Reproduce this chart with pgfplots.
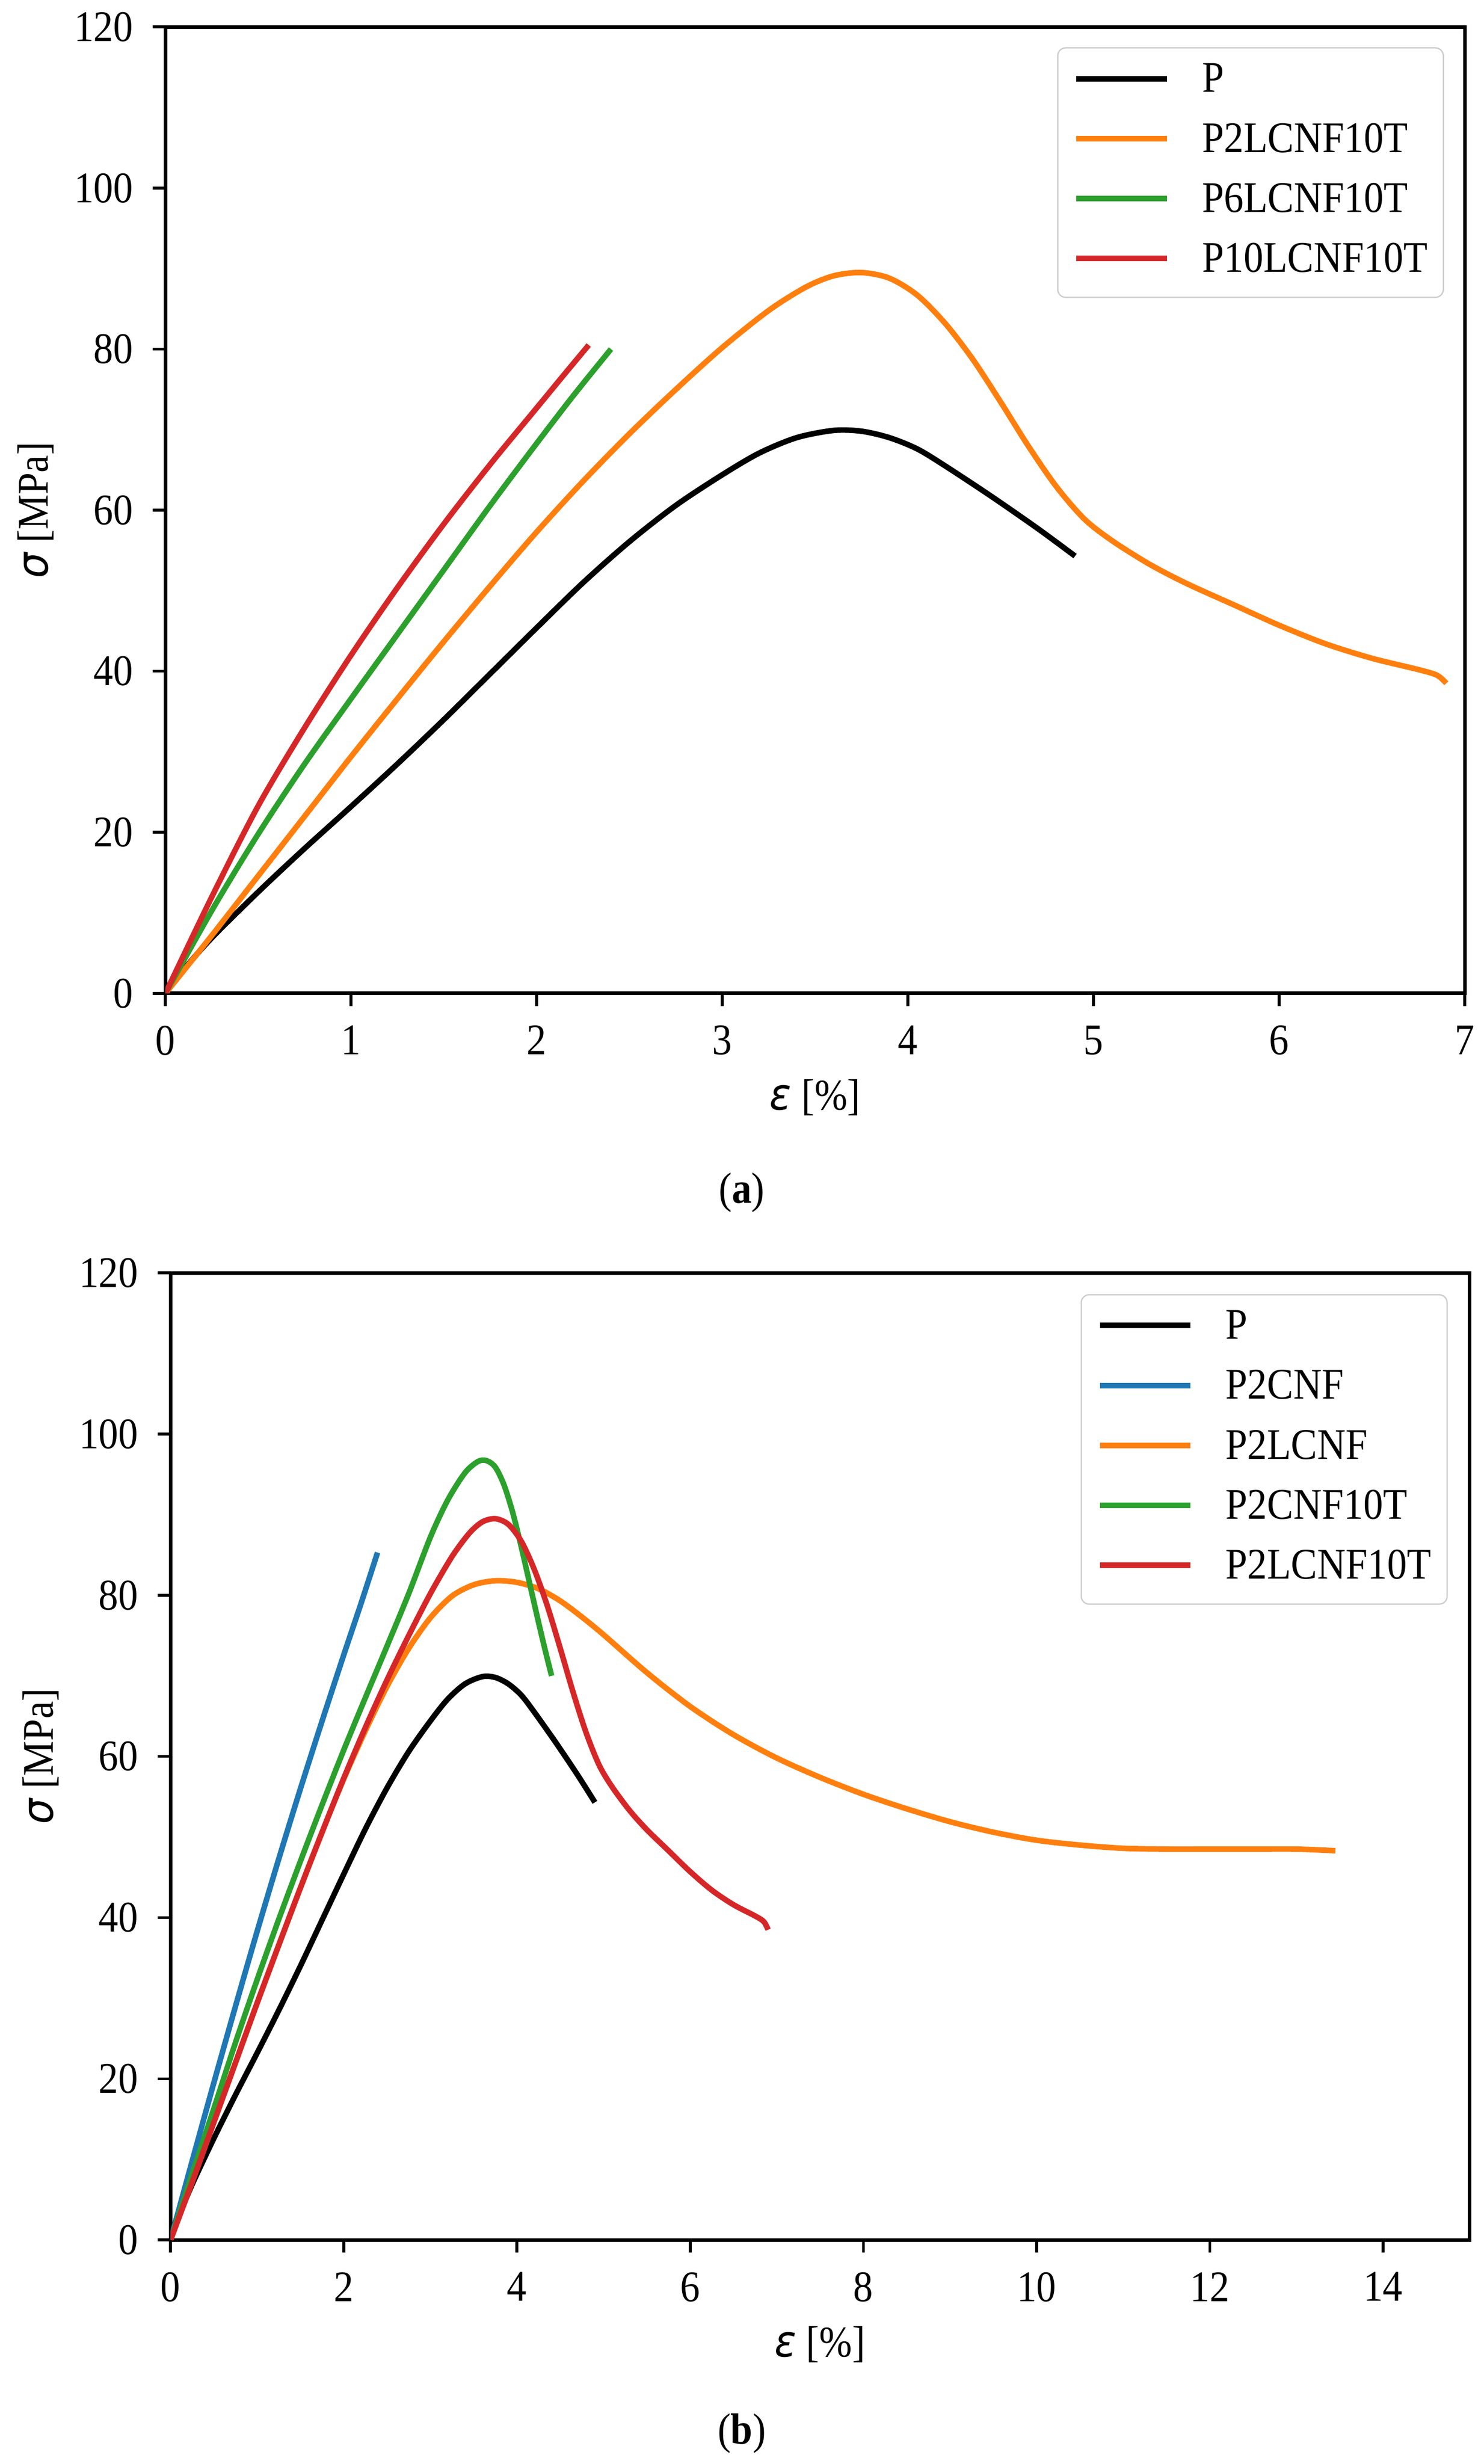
\documentclass[border=0pt]{standalone}
\usepackage{fontspec}
\setmainfont{Liberation Serif}[FakeStretch=0.9]
\newfontfamily\dejavu{DejaVu Sans}[FakeStretch=0.92]
\usepackage{pgfplots}
\pgfplotsset{compat=1.18}
\definecolor{tabblue}{RGB}{31,119,180}
\definecolor{taborange}{RGB}{255,127,14}
\definecolor{tabgreen}{RGB}{44,160,44}
\definecolor{tabred}{RGB}{214,39,40}
\newcommand{\fs}{\fontsize{13.8}{16.5}\selectfont}
\pgfplotsset{
  mystyle/.style={
    scale only axis,
    anchor=north west,
    tick align=outside,
    tick pos=left,
    major tick length=4pt,
    every tick/.style={black, line width=0.9pt},
    axis line style={line width=1.1pt},
    ymin=0, ymax=120, ytick={0,20,...,120},
    /pgf/number format/assume math mode=true,
    tick label style={font=\fs, inner sep=0pt},
    xticklabel shift=6pt, yticklabel shift=6pt,
    label style={font=\fs},
    xlabel={{\dejavu\itshape ε} [\%]},
    ylabel={{\dejavu\itshape σ} [MPa]},
    xlabel style={at={(axis description cs:0.5,-0.108)}, anchor=center},
    ylabel style={at={(axis description cs:-0.1,0.5)}, anchor=center},
    legend cell align=left,
    legend style={font=\fs, draw=black!20, rounded corners=2.5pt, fill=white,
      fill opacity=0.8, text opacity=1, at={(1,1)}, anchor=north east,
      xshift=-6.6pt, yshift=-6.4pt, inner xsep=5pt, inner ysep=4.5pt,
      row sep=5.9pt,
      nodes={inner sep=0pt, text height=9.5pt, text depth=3.5pt},
      /tikz/every odd column/.append style={column sep=10.2pt},
      /tikz/every even column/.append style={inner xsep=1.5pt}},
    legend image code/.code={\draw[#1] (0pt,1.3pt) -- (28.6pt,1.3pt);},
    every axis plot/.append style={line width=1.75pt, smooth, line join=round},
  }
}
\begin{document}
\begin{tikzpicture}
\useasboundingbox (0,0) rectangle (468pt,-777.4pt);
% ---------- (a) ----------
\begin{axis}[mystyle, at={(52.2pt,-8.5pt)}, width=409.9pt, height=304.9pt,
  xmin=0, xmax=7, xtick={0,1,...,7}]
\addplot[black] coordinates {(0,0) (0.1,3) (0.25,6.9) (0.5,12.6) (0.75,18) (1,23.2) (1.25,28.5) (1.5,34) (1.75,39.7) (2,45.4) (2.25,51) (2.5,56.1) (2.75,60.6) (3,64.4) (3.2,67.1) (3.4,69) (3.6,69.9) (3.75,69.8) (3.9,69) (4.05,67.6) (4.2,65.5) (4.45,61.7) (4.7,57.7) (4.9,54.3)};
\addlegendentry{P}
\addplot[taborange] coordinates {(0,0) (0.25,7.2) (0.5,14.6) (0.75,22) (1,29.4) (1.25,36.6) (1.5,43.7) (1.75,50.6) (2,57.3) (2.25,63.6) (2.5,69.5) (2.75,75) (3,80.2) (3.25,84.8) (3.45,87.7) (3.6,89.1) (3.75,89.5) (3.9,88.8) (4.05,86.7) (4.2,83.2) (4.35,78.7) (4.5,73.4) (4.65,67.9) (4.8,62.9) (4.95,58.9) (5.1,56.2) (5.3,53.3) (5.5,50.9) (5.75,48.3) (6,45.7) (6.25,43.4) (6.5,41.6) (6.75,40.2) (6.85,39.5) (6.9,38.5)};
\addlegendentry{P2LCNF10T}
\addplot[tabgreen] coordinates {(0,0) (0.25,10.3) (0.5,19.8) (0.75,28.5) (1,36.6) (1.25,44.6) (1.5,52.6) (1.75,60.6) (2,68.3) (2.2,74.3) (2.4,80)};
\addlegendentry{P6LCNF10T}
\addplot[tabred] coordinates {(0,0) (0.25,12) (0.5,23.3) (0.75,33) (1,42) (1.25,50.4) (1.5,58.3) (1.75,65.7) (2,72.7) (2.15,76.9) (2.28,80.5)};
\addlegendentry{P10LCNF10T}
\end{axis}
\node[font=\fs] at (234pt,-376.2pt) {(\textbf{a})};
% ---------- (b) ----------
\begin{axis}[mystyle, at={(53.8pt,-401.6pt)}, width=409.8pt, height=305.1pt,
  xmin=0, xmax=15, xtick={0,2,...,14}, legend style={xshift=-0.3pt, yshift=-0.3pt}]
\addplot[black] coordinates {(0,0) (0.1,3) (0.25,6.9) (0.5,12.6) (0.75,18) (1,23.2) (1.25,28.5) (1.5,34) (1.75,39.7) (2,45.4) (2.25,51) (2.5,56.1) (2.75,60.6) (3,64.4) (3.2,67.1) (3.4,69) (3.6,69.9) (3.75,69.8) (3.9,69) (4.05,67.6) (4.2,65.5) (4.45,61.7) (4.7,57.7) (4.9,54.3)};
\addlegendentry{P}
\addplot[tabblue] coordinates {(0,0) (0.25,9.8) (0.5,19.5) (0.75,29) (1,38.3) (1.25,47.3) (1.5,56) (1.75,64.4) (2,72.6) (2.2,79) (2.39,85.3)};
\addlegendentry{P2CNF}
\addplot[taborange] coordinates {(0,0) (0.25,7.2) (0.5,14.6) (0.75,22) (1,29.4) (1.25,36.6) (1.5,43.7) (1.75,50.6) (2,57.2) (2.25,63.2) (2.5,68.7) (2.75,73.4) (3,77.2) (3.25,79.9) (3.5,81.3) (3.75,81.8) (4,81.6) (4.25,80.8) (4.5,79.3) (4.75,77.3) (5,75.1) (5.5,70.4) (6,66.2) (6.5,62.7) (7,59.8) (7.5,57.4) (8,55.3) (8.5,53.5) (9,51.9) (9.5,50.6) (10,49.6) (10.5,49) (11,48.6) (11.5,48.5) (12,48.5) (12.5,48.5) (13,48.5) (13.45,48.3)};
\addlegendentry{P2LCNF}
\addplot[tabgreen] coordinates {(0,0) (0.25,8.2) (0.5,16.3) (0.75,24.5) (1,32.3) (1.25,39.8) (1.5,47) (1.75,54) (2,60.8) (2.25,67.3) (2.5,73.7) (2.75,80.2) (3,87.2) (3.2,91.8) (3.4,95.2) (3.55,96.6) (3.65,96.7) (3.75,95.9) (3.85,93.7) (3.95,90.3) (4.05,86) (4.15,81.3) (4.25,76.6) (4.33,73) (4.4,70)};
\addlegendentry{P2CNF10T}
\addplot[tabred] coordinates {(0,0) (0.25,7.2) (0.5,14.6) (0.75,22) (1,29.4) (1.25,36.6) (1.5,43.7) (1.75,50.6) (2,57.3) (2.25,63.6) (2.5,69.5) (2.75,75) (3,80.2) (3.25,84.8) (3.45,87.7) (3.6,89.1) (3.75,89.5) (3.9,88.8) (4.05,86.7) (4.2,83.2) (4.35,78.7) (4.5,73.4) (4.65,67.9) (4.8,62.9) (4.95,58.9) (5.1,56.2) (5.3,53.3) (5.5,50.9) (5.75,48.3) (6,45.7) (6.25,43.4) (6.5,41.6) (6.75,40.2) (6.85,39.5) (6.9,38.5)};
\addlegendentry{P2LCNF10T}
\end{axis}
\node[font=\fs] at (234pt,-767.8pt) {(\textbf{b})};
\end{tikzpicture}
\end{document}
